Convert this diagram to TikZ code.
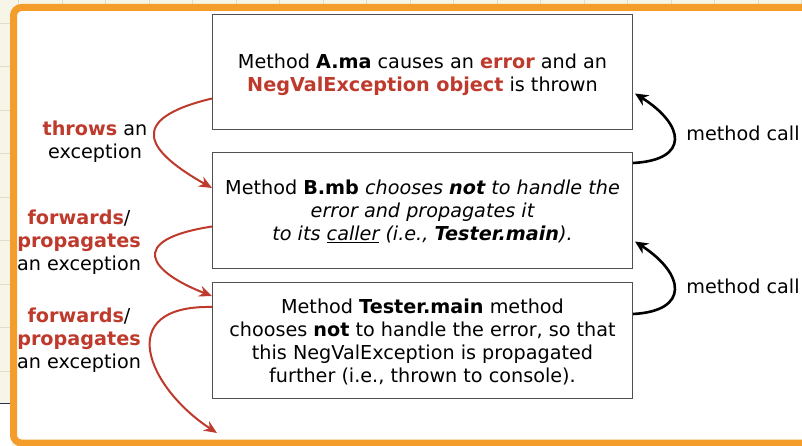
\documentclass[tikz,border=0pt]{standalone}
\usepackage{fontspec}
\setmainfont{DejaVu Sans}
\usetikzlibrary{arrows.meta}
\definecolor{exred}{RGB}{190,58,44}
\definecolor{frameorange}{RGB}{244,157,42}
\definecolor{bgcream}{RGB}{247,244,232}
\definecolor{gridline}{RGB}{224,220,204}
\definecolor{boxgrey}{RGB}{80,80,80}
\definecolor{navyline}{RGB}{40,50,80}
\newcommand{\topstrut}[1]{\rule{0pt}{#1}}
\begin{document}
\begin{tikzpicture}[x=1pt,y=-1pt,
  box/.style={draw=boxgrey, line width=1pt, fill=white, minimum width=420pt, minimum height=115.5pt, anchor=north west, inner sep=0pt, align=center, font=\fontsize{19.2}{23.2}\selectfont},
  lbl/.style={align=center, font=\fontsize{19.2}{23.2}\selectfont, inner sep=0pt},
  redarrow/.style={draw=exred, line width=2pt, -{Stealth[length=13pt,width=11pt]}},
  blackarrow/.style={draw=black, line width=2.6pt, -{Stealth[length=13pt,width=12pt]}}]
\useasboundingbox (0,0) rectangle (802,446);
% background with grid
\fill[bgcream] (0,0) rectangle (802,446);
\foreach \i in {0,...,18} \draw[gridline, line width=0.8pt] (18.5+43.5*\i,0) -- ++(0,446);
\foreach \j in {0,...,10} \draw[gridline, line width=0.8pt] (0,23.3+43.5*\j) -- ++(802,0);
\fill[white] (0,403.5) rectangle (12,446);
\draw[navyline, line width=1pt] (0,403) -- (12,403);
% orange frame
\draw[frameorange, line width=7pt, fill=white, rounded corners=8pt] (13.5,7.5) rectangle (830,443);
% boxes
\node[box] (A) at (212,14) {\topstrut{20pt}Method \textbf{A.ma} causes an \textcolor{exred}{\textbf{error}} and an\\ \textcolor{exred}{\textbf{NegValException object}} is thrown};
\node[box] (B) at (212,152) {\topstrut{17pt}Method \textbf{B.mb} {\itshape chooses \textbf{not} to handle the}\\ {\itshape error and propagates it}\\ {\itshape to its \underline{caller} (i.e., \textbf{Tester.main}).}};
\node[box] (C) at (212,282) {\topstrut{18pt}Method \textbf{Tester.main} method\\ chooses \textbf{not} to handle the error, so that\\ this NegValException is propagated\\ further (i.e., thrown to console).};
% labels
\node[lbl] (l1) at (95,141.5) {\textcolor{exred}{\textbf{throws}} an\\ exception};
\node[lbl] (l2) at (79,242) {\textcolor{exred}{\textbf{forwards}}/\\ \textcolor{exred}{\textbf{propagates}}\\ an exception};
\node[lbl] (l3) at (79,340) {\textcolor{exred}{\textbf{forwards}}/\\ \textcolor{exred}{\textbf{propagates}}\\ an exception};
\node[lbl] (m1) at (743,133) {method call};
\node[lbl] (m2) at (743,286) {method call};
% end coordinate of last arrow
\coordinate (out) at (217,433);
% red arrows
\draw[redarrow] ([yshift=32pt]A.south west) .. controls (122,120) and (150,153) .. ([yshift=-36pt]B.north west);
\draw[redarrow] ([yshift=42pt]B.south west) .. controls (125,240) and (150,272) .. ([yshift=-14pt]C.north west);
\draw[redarrow] ([yshift=-25pt]C.north west) .. controls (112,305) and (148,388) .. (out);
% black arrows
\draw[blackarrow] ([yshift=-11pt]B.north east) .. controls (690,160) and (685,125) .. ([xshift=2pt,yshift=37pt]A.south east);
\draw[blackarrow] ([yshift=-32pt]C.north east) .. controls (690,311) and (685,274) .. ([xshift=2pt,yshift=27pt]B.south east);
\end{tikzpicture}
\end{document}
